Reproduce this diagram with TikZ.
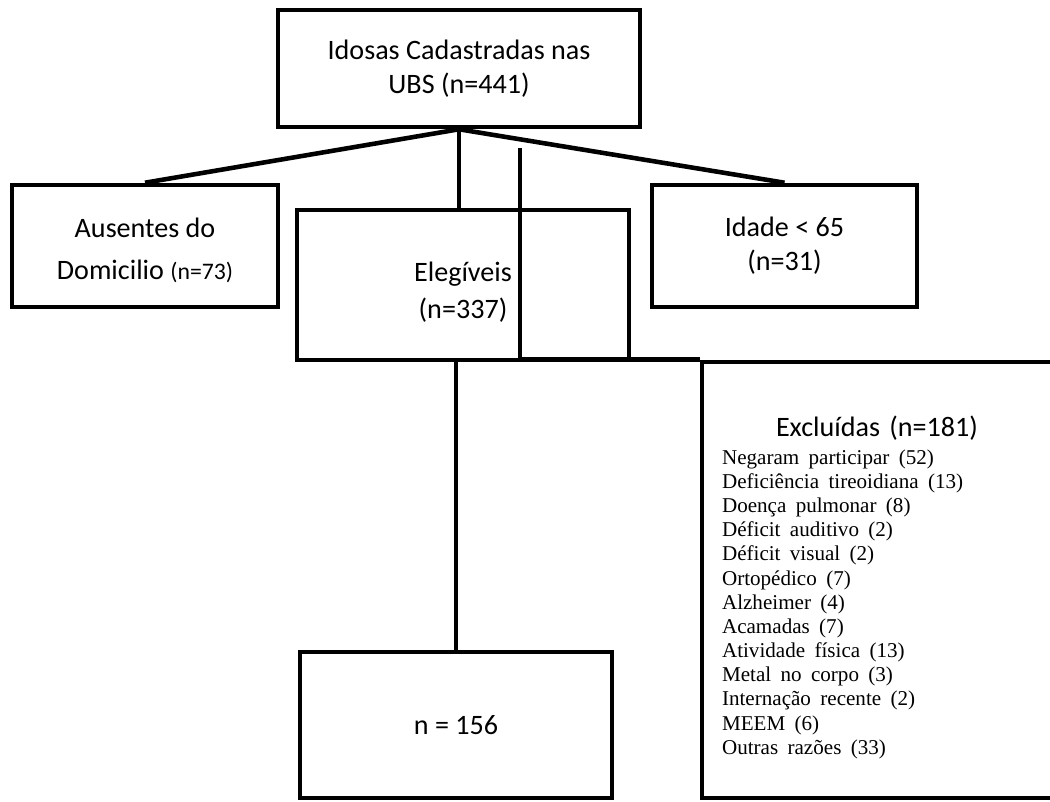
\documentclass[tikz,border=0pt]{standalone}
\usepackage{fontspec}
\setmainfont{Liberation Serif}
\setsansfont{Carlito}
\usepackage{tikz}

\begin{document}
\begin{tikzpicture}[x=0.02cm, y=-0.02cm, line width=2.6pt,
        caixa/.style={draw, align=center, inner sep=0pt, font=\sffamily\fontsize{16}{19.5}\selectfont}]
        \useasboundingbox (0,0) rectangle (1050,801);
        \node[caixa, minimum width=7.24cm, minimum height=2.34cm] (idosas) at (459,68.5) {Idosas Cadastradas nas\\UBS (n=441)};
        \node[caixa, minimum width=5.32cm, minimum height=2.44cm] (ausentes) at (145,246) {\rule{0pt}{16pt}Ausentes do\\[4.3pt]Domicilio {\fontsize{13.5}{16}\selectfont(n=73)}};
        \node[caixa, minimum width=6.64cm, minimum height=3cm] (elegiveis) at (463,285) {\rule{0pt}{19pt}Elegíveis\\[1.5pt](n=337)};
        \node[caixa, minimum width=5.3cm, minimum height=2.44cm] (idade) at (784.5,246) {Idade < 65\\(n=31)};
        \node[caixa, minimum width=6.24cm, minimum height=2.92cm] (final) at (456,725) {n = 156};
        \node[caixa, minimum width=7cm, minimum height=8.72cm, text width=6.2cm, inner xsep=0.4cm, align=left] (excluidas) at (877,580) {%
            {\centering\rule{0pt}{20pt}Excluídas (n=181)\par}\vspace{2.1pt}
            \rmfamily\fontsize{12}{13.75}\selectfont
            Negaram participar (52)\\
            Deficiência tireoidiana (13)\\
            Doença pulmonar (8)\\
            Déficit auditivo (2)\\
            Déficit visual (2)\\
            Ortopédico (7)\\
            Alzheimer (4)\\
            Acamadas (7)\\
            Atividade física (13)\\
            Metal no corpo (3)\\
            Internação recente (2)\\
            MEEM (6)\\
            Outras razões (33)\par};
        \coordinate (corte) at (520,148);
        \draw (idosas.south) -- (ausentes.north);
        \draw (idosas.south) -- (idade.north);
        \draw (idosas.south) -- (idosas.south |- elegiveis.north);
        \draw (corte) |- (excluidas.north west);
        \draw (final.north |- elegiveis.south) -- (final.north);
    \end{tikzpicture}
\end{document}
